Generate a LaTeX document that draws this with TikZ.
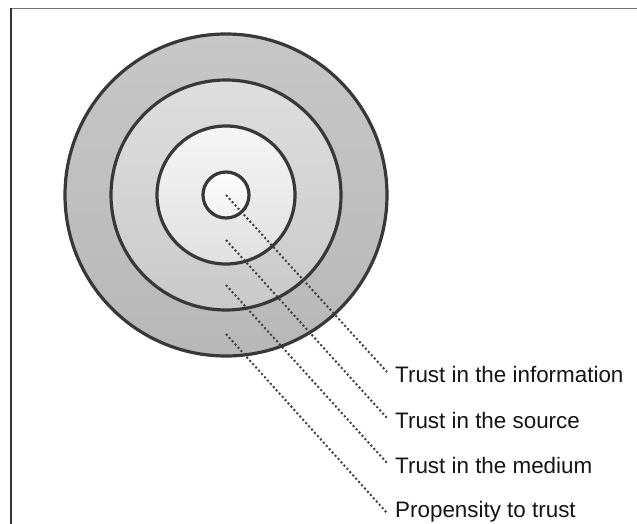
\documentclass[tikz,border=0pt]{standalone}
\usepackage{fontspec}
\setmainfont{Liberation Sans}
\usetikzlibrary{calc}
\definecolor{ringline}{HTML}{383838}
\definecolor{dotline}{HTML}{404040}
\definecolor{txt}{HTML}{141414}
\begin{document}
\begin{tikzpicture}[x=1pt,y=-1pt,
  ring/.style={draw=ringline,line width=3.2pt},
  leader/.style={draw=dotline,line width=2pt,dash pattern=on 2pt off 2.4pt},
  lab/.style={anchor=base west,inner sep=0pt,text=txt,font=\fontsize{22.4}{26}\selectfont}]
\useasboundingbox (0,0) rectangle (637,524);
% frame
\draw[draw=gray!90!black,line width=1.8pt] (11,8.5) -- (637,8.5);
\draw[draw=black!80,line width=1.8pt] (11,8.5) -- (11,524);
% rings
\shade[top color=black!22,bottom color=black!28] (226,195) circle (161);
\draw[ring] (226,195) circle (161);
\shade[top color=black!13,bottom color=black!21] (226,195) circle (115);
\draw[ring] (226,195) circle (115);
\shade[top color=black!4,bottom color=black!12] (226,195) circle (69);
\draw[ring] (226,195) circle (69);
\shade[top color=black!1,bottom color=black!5] (226,195) circle (23);
\draw[ring] (226,195) circle (23);
% leader end points
\coordinate (s1) at (226,195);
\coordinate (s2) at (226,240);
\coordinate (s3) at (226,285);
\coordinate (s4) at (226,334);
\coordinate (e1) at (387,372);
\coordinate (e2) at (387,418);
\coordinate (e3) at (387,463);
\coordinate (e4) at (387,513);
\draw[leader] (s1) -- (e1);
\draw[leader] (s2) -- (e2);
\draw[leader] (s3) -- (e3);
\draw[leader] (s4) -- (e4);
% labels
\node[lab] (l1) at (395,382.5) {Trust in the information};
\node[lab] (l2) at (395,428) {Trust in the source};
\node[lab] (l3) at (395,473) {Trust in the medium};
\node[lab] (l4) at (395,517.5) {Propensity to trust};
\end{tikzpicture}
\end{document}
